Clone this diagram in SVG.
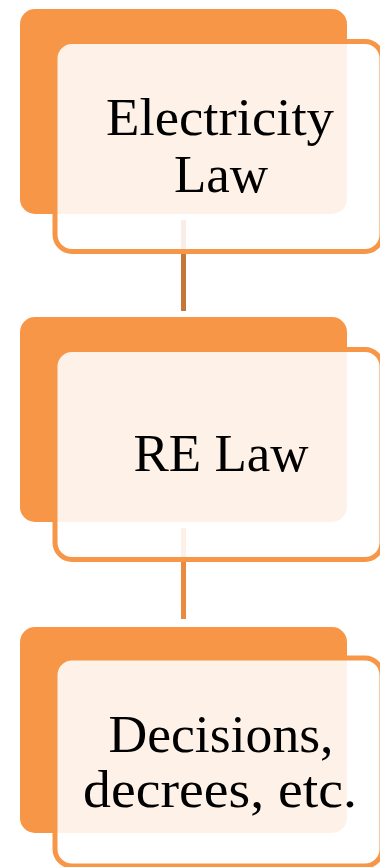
<svg xmlns="http://www.w3.org/2000/svg" width="380" height="867" viewBox="0 0 380 867">
<style>
.back{fill:#F79646;}
.front{fill:#FFFFFF;fill-opacity:0.88;stroke:#F79646;stroke-width:5;}
.lbl{font-family:"Liberation Serif","Times New Roman",serif;font-size:53px;fill:#000000;text-anchor:middle;}
.conn{stroke-width:5;fill:none;}
</style>
<rect width="380" height="867" fill="#FFFFFF"/>
<g id="connectors">
<line class="conn" x1="183.5" y1="220" x2="183.5" y2="311" stroke="#C4773B"/>
<line class="conn" x1="183.5" y1="528" x2="183.5" y2="619" stroke="#E98A3F"/>
</g>
<g id="node1">
<rect class="back" x="20" y="9" width="327" height="205" rx="15"/>
<rect class="front" x="55" y="41.5" width="327" height="210" rx="17"/>
<text class="lbl" x="220" y="135" textLength="228" lengthAdjust="spacingAndGlyphs">Electricity</text>
<text class="lbl" x="221" y="192">Law</text>
</g>
<g id="node2">
<rect class="back" x="20" y="317" width="327" height="205" rx="15"/>
<rect class="front" x="55" y="349.5" width="327" height="210" rx="17"/>
<text class="lbl" x="221" y="471">RE Law</text>
</g>
<g id="node3">
<rect class="back" x="20" y="627" width="327" height="206" rx="15"/>
<rect class="front" x="55" y="658" width="327" height="208" rx="17"/>
<text class="lbl" x="221" y="752" textLength="225" lengthAdjust="spacingAndGlyphs">Decisions,</text>
<text class="lbl" x="220" y="807" textLength="274" lengthAdjust="spacingAndGlyphs">decrees, etc.</text>
</g>
</svg>
